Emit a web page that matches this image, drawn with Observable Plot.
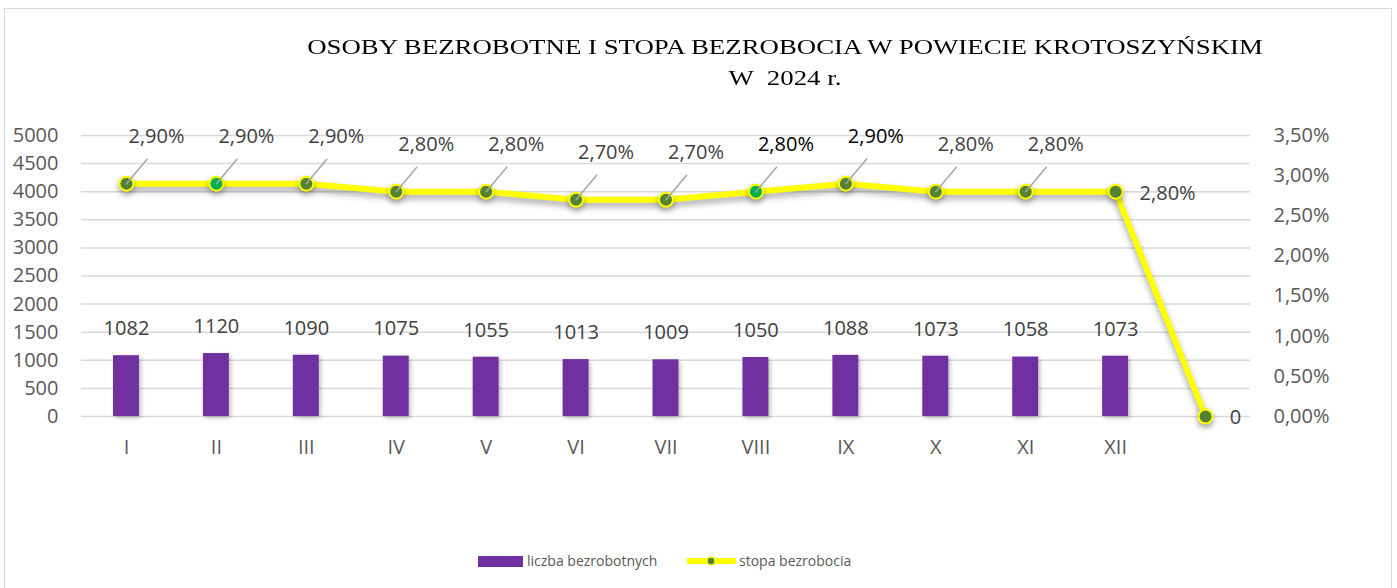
<!DOCTYPE html>
<html><head><meta charset="utf-8">
<script src="https://cdn.jsdelivr.net/npm/d3@7"></script>
<script src="https://cdn.jsdelivr.net/npm/@observablehq/plot@0.6"></script>
<style>
html,body{margin:0;padding:0;background:#fff;width:1397px;height:588px;overflow:hidden;position:relative;}
#frame{position:absolute;left:4px;top:8px;width:1388px;height:600px;border:1.5px solid #d9d9d9;box-sizing:border-box;}
.title{position:absolute;left:0;width:1570px;text-align:center;font-family:"Liberation Serif","Times New Roman",serif;font-size:22px;line-height:26px;color:#000;white-space:pre;transform:scaleX(1.22);transform-origin:785px 50%;}
#chart{position:absolute;left:0;top:100px;}
#legend{position:absolute;left:0;top:548px;width:1397px;height:26px;}
.lg{position:absolute;font-family:"Open Sans",sans-serif;font-size:14px;color:#595959;line-height:26px;top:0;}
</style>
</head><body>
<div id="frame"></div>
<div class="title" style="top:34px">OSOBY BEZROBOTNE I STOPA BEZROBOCIA W POWIECIE KROTOSZYŃSKIM</div>
<div class="title" style="top:65px">W  2024 r.</div>
<div id="chart"></div>
<div id="legend">
  <svg width="1397" height="26" style="position:absolute;left:0;top:0">
    <rect x="478" y="8" width="45" height="11" fill="#7030A0"></rect>
    <line x1="687" x2="736" y1="13" y2="13" stroke="#FFFF00" stroke-width="6"></line>
    <circle cx="711" cy="13" r="4" fill="#548235" stroke="#FFFF00" stroke-width="1.5"></circle>
  </svg>
  <span class="lg" style="left:527px">liczba bezrobotnych</span>
  <span class="lg" style="left:739px">stopa bezrobocia</span>
</div>
<script>
const months = ["I","II","III","IV","V","VI","VII","VIII","IX","X","XI","XII",""];
const unemployed = [1082,1120,1090,1075,1055,1013,1009,1050,1088,1073,1058,1073];
const rate = [2.9,2.9,2.9,2.8,2.8,2.7,2.7,2.8,2.9,2.8,2.8,2.8,0];
const leftTicks = [0,500,1000,1500,2000,2500,3000,3500,4000,4500,5000];
const rightTicks = [0,0.5,1,1.5,2,2.5,3,3.5];
const brightMarkers = ["II","VIII"];
const darkLabels = ["VIII","IX"];
const LEFT_MAX = 5000, RIGHT_MAX = 3.5;
const k = LEFT_MAX / RIGHT_MAX;

const bars = unemployed.map((v, i) => ({m: months[i], v}));
const pts = rate.map((r, i) => ({m: months[i], r, y: r * k, i}));
const fmtPct = r => (Math.round(r * 100) / 100).toFixed(2).replace(".", ",") + "%";
const leader = {draw(ctx, l) { ctx.moveTo(0, 0); ctx.lineTo(0, -l); }};
const FS = 20;

const svg = Plot.plot({
  width: 1397,
  height: 370,
  marginLeft: 81,
  marginRight: 147,
  marginTop: 35,
  marginBottom: 54,
  style: {fontFamily: "'Open Sans', sans-serif", fontSize: FS + "px", color: "#595959", background: "transparent", overflow: "visible"},
  x: {type: "band", domain: months, padding: 0, round: false, axis: null},
  y: {domain: [0, LEFT_MAX], axis: null},
  marks: [
    Plot.ruleY(leftTicks, {stroke: "#d9d9d9", strokeWidth: 1.5}),
    Plot.barY(bars, {x: "m", y: "v", fill: "#7030A0", insetLeft: 32, insetRight: 32}),
    Plot.text(bars, {x: "m", y: "v", text: d => String(d.v), dy: -27, fill: "#404040", fontSize: FS}),
    Plot.line(pts, {x: "m", y: "y", stroke: "#FFFF00", strokeWidth: 6, strokeLinejoin: "round"}),
    Plot.dot(pts, {x: "m", y: "y", r: 7, fill: d => brightMarkers.includes(d.m) ? "#00B050" : "#548235", stroke: "#FFFF00", strokeWidth: 2}),
    Plot.vector(pts.filter(d => d.i < 11), {x: "m", y: "y", length: 32, rotate: 40, anchor: "start", stroke: "#a6a6a6", strokeWidth: 1.5, shape: leader}),
    Plot.text(pts.filter(d => d.i < 11), {x: "m", y: "y", text: d => fmtPct(d.r), dx: 30, dy: -47, fill: d => darkLabels.includes(d.m) ? "#000000" : "#404040", fontSize: FS}),
    Plot.text(pts.filter(d => d.i === 11), {x: "m", y: "y", text: d => fmtPct(d.r), dx: 52, dy: 2, fill: "#404040", fontSize: FS}),
    Plot.text(pts.filter(d => d.i === 12), {x: "m", y: "y", text: d => String(d.r), dx: 30, dy: 1, fill: "#404040", fontSize: FS}),
    Plot.axisY(leftTicks, {anchor: "left", tickSize: 0, tickPadding: 23, fontSize: FS, label: null, tickFormat: d => String(d)}),
    Plot.axisY(rightTicks.map(t => t * k), {anchor: "right", tickSize: 0, tickPadding: 23, fontSize: FS, label: null, tickFormat: d => fmtPct(d / k)}),
    Plot.axisX({tickSize: 0, tickPadding: 23, fontSize: FS, label: null})
  ]
});
document.getElementById("chart").appendChild(svg);
const s = d3.select(svg);
s.selectAll('g[aria-label="line"] path').style("filter", "drop-shadow(0px 4px 3px rgba(0,0,0,0.35))");
s.selectAll('g[aria-label="bar"] rect').style("filter", "drop-shadow(2px 2px 2px rgba(0,0,0,0.25))");
s.selectAll('g[aria-label="dot"] circle').style("filter", "drop-shadow(0px 3px 3px rgba(0,0,0,0.35))");
</script>
</body></html>
